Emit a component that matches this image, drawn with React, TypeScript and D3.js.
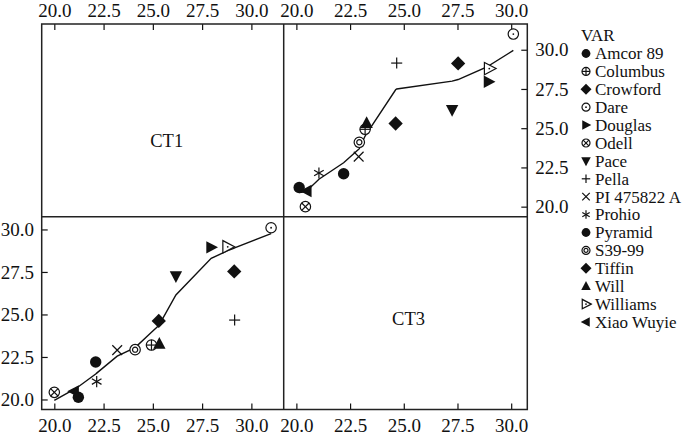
import React, { useRef, useEffect } from 'react';
import * as d3 from 'd3';

// varieties and the symbol used for each one
const varieties = [
  'Amcor 89', 'Columbus', 'Crowford', 'Dare', 'Douglas', 'Odell', 'Pace', 'Pella',
  'PI 475822 A', 'Prohio', 'Pyramid', 'S39-99', 'Tiffin', 'Will', 'Williams', 'Xiao Wuyie'
];
const symbols = [
  'dot', 'circlePlus', 'diamond', 'circleDot', 'triRight', 'circleX', 'triDown', 'plus',
  'cross', 'star', 'dot', 'doubleCircle', 'diamond', 'triUp', 'triRightOpen', 'triLeft'
];

// measured values
const ct1 = [21.22, 24.93, 29.13, 31.0, 27.96, 20.0, 26.17, 29.15, 23.19, 22.15, 22.1, 24.1, 25.3, 25.33, 28.8, 21.0];
const ct3 = [20.13, 23.2, 27.53, 30.1, 28.95, 20.42, 27.25, 24.67, 22.9, 21.05, 22.2, 22.93, 24.62, 23.27, 28.98, 20.48];

// smoothed fit, CT3 on CT1 and CT1 on CT3
const fitCt3 = [20.75, 23.95, 28.9, 29.75, 28.3, 19.95, 26.15, 28.92, 22.55, 21.55, 21.5, 23.05, 24.35, 24.4, 28.75, 20.6];
const fitCt1 = [20.9, 24.5, 28.1, 29.96, 28.95, 20.95, 28.0, 27.5, 23.65, 21.75, 22.8, 23.7, 27.45, 24.65, 29.0, 21.0];

const tickValues = [20, 22.5, 25, 27.5, 30];
const ct1Domain = [19.36, 31.64];
const ct3Domain = [19.41, 30.75];

const font = '"Liberation Serif", "Times New Roman", serif';
const ink = '#111';

const drawMarker = (parent, kind, x, y, s) => {
  const g = parent.append('g').attr('transform', `translate(${x},${y})`);
  const line = (x1, y1, x2, y2) =>
    g.append('line')
      .attr('x1', x1).attr('y1', y1).attr('x2', x2).attr('y2', y2)
      .attr('stroke', ink).attr('stroke-width', 1.2);
  const tri = `M0,${-1.05 * s} L${0.95 * s},${0.75 * s} L${-0.95 * s},${0.75 * s} Z`;
  const r = 0.8 * s;

  switch (kind) {
    case 'dot':
      g.append('circle').attr('r', 0.88 * s).attr('fill', ink);
      break;
    case 'circlePlus':
      g.append('circle').attr('r', r).attr('fill', '#fff').attr('stroke', ink).attr('stroke-width', 1.2);
      line(-r, 0, r, 0);
      line(0, -r, 0, r);
      break;
    case 'circleX': {
      g.append('circle').attr('r', r).attr('fill', '#fff').attr('stroke', ink).attr('stroke-width', 1.2);
      const d = r * 0.707;
      line(-d, -d, d, d);
      line(-d, d, d, -d);
      break;
    }
    case 'circleDot':
      g.append('circle').attr('r', r).attr('fill', '#fff').attr('stroke', ink).attr('stroke-width', 1.2);
      g.append('circle').attr('r', 0.9).attr('fill', ink);
      break;
    case 'doubleCircle':
      g.append('circle').attr('r', r).attr('fill', '#fff').attr('stroke', ink).attr('stroke-width', 1.2);
      g.append('circle').attr('r', r * 0.5).attr('fill', 'none').attr('stroke', ink).attr('stroke-width', 1.2);
      break;
    case 'diamond': {
      const h = 1.1 * s;
      g.append('path').attr('d', `M0,${-h} L${h},0 L0,${h} L${-h},0 Z`).attr('fill', ink);
      break;
    }
    case 'triUp':
      g.append('path').attr('d', tri).attr('fill', ink);
      break;
    case 'triDown':
      g.append('path').attr('d', tri).attr('fill', ink).attr('transform', 'rotate(180)');
      break;
    case 'triRight':
      g.append('path').attr('d', tri).attr('fill', ink).attr('transform', 'rotate(90)');
      break;
    case 'triLeft':
      g.append('path').attr('d', tri).attr('fill', ink).attr('transform', 'rotate(-90)');
      break;
    case 'triRightOpen':
      g.append('path').attr('d', tri).attr('fill', '#fff').attr('stroke', ink)
        .attr('stroke-width', 1.2).attr('transform', 'rotate(90)');
      g.append('circle').attr('r', 0.9).attr('fill', ink);
      break;
    case 'plus':
      line(-0.85 * s, 0, 0.85 * s, 0);
      line(0, -0.85 * s, 0, 0.85 * s);
      break;
    case 'cross': {
      const d = 0.75 * s;
      line(-d, -d, d, d);
      line(-d, d, d, -d);
      break;
    }
    case 'star': {
      const d = 0.85 * s;
      line(0, -d, 0, d);
      line(-d * 0.87, -d * 0.5, d * 0.87, d * 0.5);
      line(-d * 0.87, d * 0.5, d * 0.87, -d * 0.5);
      break;
    }
    default:
      break;
  }
};

const App = () => {
  const ref = useRef(null);

  useEffect(() => {
    const svg = d3.select(ref.current);
    svg.selectAll('*').remove();

    const left = 41.7, mid = 283.7, right = 527.3;
    const top = 24, midY = 216.7, bottom = 409.5;

    const x1 = d3.scaleLinear().domain(ct1Domain).range([left, mid]);
    const x3 = d3.scaleLinear().domain(ct3Domain).range([mid, right]);
    const y1 = d3.scaleLinear().domain(ct1Domain).range([midY, top]);
    const y3 = d3.scaleLinear().domain(ct3Domain).range([bottom, midY]);

    const fmt = d3.format('.1f');
    const styleAxis = (g) => {
      g.select('.domain').remove();
      g.selectAll('line').attr('stroke', ink).attr('stroke-width', 1.2);
      g.selectAll('text').attr('font-family', font).attr('font-size', 19).attr('fill', ink);
    };

    // axes, ticks pointing into the panels
    svg.append('g').attr('transform', `translate(0,${top})`)
      .call(d3.axisTop(x1).tickValues(tickValues).tickFormat(fmt).tickSize(-6).tickPadding(7.3))
      .call(styleAxis);
    svg.append('g').attr('transform', `translate(0,${top})`)
      .call(d3.axisTop(x3).tickValues(tickValues).tickFormat(fmt).tickSize(-6).tickPadding(7.3))
      .call(styleAxis);
    svg.append('g').attr('transform', `translate(0,${bottom})`)
      .call(d3.axisBottom(x1).tickValues(tickValues).tickFormat(fmt).tickSize(-6).tickPadding(9))
      .call(styleAxis);
    svg.append('g').attr('transform', `translate(0,${bottom})`)
      .call(d3.axisBottom(x3).tickValues(tickValues).tickFormat(fmt).tickSize(-6).tickPadding(9))
      .call(styleAxis);
    svg.append('g').attr('transform', `translate(${left},0)`)
      .call(d3.axisLeft(y3).tickValues(tickValues).tickFormat(fmt).tickSize(-6).tickPadding(7.7))
      .call(styleAxis);
    svg.append('g').attr('transform', `translate(${right},0)`)
      .call(d3.axisRight(y1).tickValues(tickValues).tickFormat(fmt).tickSize(-6).tickPadding(8))
      .call(styleAxis);

    // frame
    const frame = svg.append('g').attr('fill', 'none').attr('stroke', '#222').attr('stroke-width', 1.5);
    frame.append('rect').attr('x', left).attr('y', top).attr('width', right - left).attr('height', bottom - top);
    frame.append('line').attr('x1', mid).attr('x2', mid).attr('y1', top).attr('y2', bottom);
    frame.append('line').attr('x1', left).attr('x2', right).attr('y1', midY).attr('y2', midY);

    // diagonal labels
    svg.append('text').text('CT1')
      .attr('x', (left + mid) / 2 + 4).attr('y', (top + midY) / 2 + 27)
      .attr('text-anchor', 'middle').attr('font-family', font).attr('font-size', 18.5).attr('fill', ink);
    svg.append('text').text('CT3')
      .attr('x', (mid + right) / 2 + 3).attr('y', (midY + bottom) / 2 + 12)
      .attr('text-anchor', 'middle').attr('font-family', font).attr('font-size', 18.5).attr('fill', ink);

    // smoothing lines
    const idx = d3.range(varieties.length);
    const path = d3.line();
    const bl = [...idx].sort((a, b) => ct1[a] - ct1[b]).map((i) => [x1(ct1[i]), y3(fitCt3[i])]);
    const tr = [...idx].sort((a, b) => ct3[a] - ct3[b]).map((i) => [x3(ct3[i]), y1(fitCt1[i])]);
    svg.append('path').attr('d', path(bl)).attr('fill', 'none').attr('stroke', ink).attr('stroke-width', 1.4);
    svg.append('path').attr('d', path(tr)).attr('fill', 'none').attr('stroke', ink).attr('stroke-width', 1.4);

    // points
    const pts = svg.append('g');
    idx.forEach((i) => {
      drawMarker(pts, symbols[i], x1(ct1[i]), y3(ct3[i]), 6.5);
      drawMarker(pts, symbols[i], x3(ct3[i]), y1(ct1[i]), 6.5);
    });

    // legend
    const legend = svg.append('g').attr('font-family', font).attr('font-size', 17).attr('fill', ink);
    legend.append('text').text('VAR').attr('x', 581).attr('y', 40.7);
    const rowY = d3.scaleLinear().domain([0, varieties.length - 1]).range([53.5, 322]);
    varieties.forEach((v, i) => {
      drawMarker(legend, symbols[i], 586, rowY(i), 5);
      legend.append('text').text(v).attr('x', 595).attr('y', rowY(i) + 5.8);
    });
  }, []);

  return (
    <svg
      ref={ref}
      width={685}
      height={438}
      style={{ position: 'absolute', left: 0, top: 0, background: '#fff' }}
    />
  );
};

export default App;
